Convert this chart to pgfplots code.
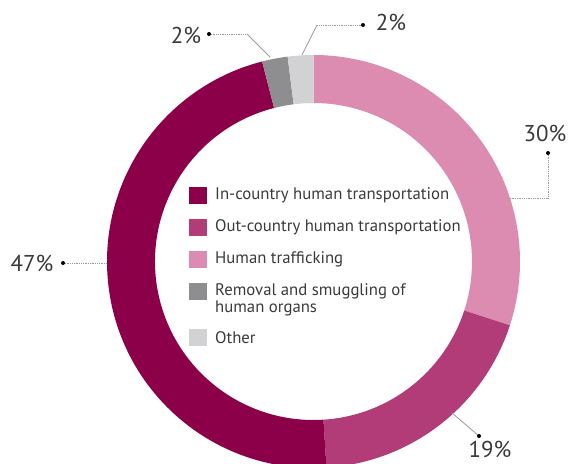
\documentclass[border=0pt]{standalone}
\usepackage{pgfplots}
\pgfplotsset{compat=1.18}
\usepackage{fontspec}
\setmainfont{PT Sans}
\usetikzlibrary{calc}
\definecolor{cIn}{HTML}{8C004A}
\definecolor{cOut}{HTML}{B13C78}
\definecolor{cTraf}{HTML}{DC8BB1}
\definecolor{cRem}{HTML}{8E8E90}
\definecolor{cOth}{HTML}{D2D2D5}
\definecolor{lbl}{HTML}{3A3A3A}
\definecolor{lead}{HTML}{9A9A9A}
% segment between cumulative percentages #1 and #2, colour #3
\newcommand{\donutseg}[3]{%
  \fill[#3] ($(axis cs:313.5,261.5)+({90-3.6*#1}:206.5bp)$)
    arc[start angle={90-3.6*#1}, end angle={90-3.6*#2}, radius=206.5bp]
    -- ($(axis cs:313.5,261.5)+({90-3.6*#2}:158.5bp)$)
    arc[start angle={90-3.6*#2}, end angle={90-3.6*#1}, radius=158.5bp]
    -- cycle;}
\begin{document}
\begin{tikzpicture}
\begin{axis}[
  scale only axis, width=571bp, height=464bp,
  xmin=0, xmax=571, ymin=0, ymax=464, y dir=reverse,
  hide axis, clip=true,
]
% values: Human trafficking 30, Out-country 19, In-country 47, Removal 2, Other 2
\donutseg{0}{30}{cTraf}
\donutseg{30}{49}{cOut}
\donutseg{49}{96}{cIn}
\donutseg{96}{98}{cRem}
\donutseg{98}{100}{cOth}
% leader lines
\draw[lead, densely dotted, line width=0.8pt] (axis cs:209,34) -- (axis cs:247,34);
\draw[lead, line width=0.8pt] (axis cs:247,34) -- (axis cs:270,57);
\draw[lead, densely dotted, line width=0.8pt] (axis cs:363,25) -- (axis cs:317,25);
\draw[lead, line width=0.8pt] (axis cs:317,25) -- (axis cs:302,55);
\draw[lead, densely dotted, line width=0.8pt] (axis cs:63,263) -- (axis cs:107,263);
\draw[lead, densely dotted, line width=0.8pt] (axis cs:548,153) -- (axis cs:548,198) -- (axis cs:507,198);
\draw[lead, line width=0.8pt] (axis cs:479,436) -- (axis cs:452,413);
\fill[black] (axis cs:209,34) circle[radius=2bp];
\fill[black] (axis cs:363,25) circle[radius=2bp];
\fill[black] (axis cs:63,263) circle[radius=2bp];
\fill[black] (axis cs:548,153) circle[radius=2bp];
\fill[black] (axis cs:479,436) circle[radius=2bp];
% value labels
\node[lbl, font=\fontsize{23}{26}\selectfont] at (axis cs:186,35) {2\%};
\node[lbl, font=\fontsize{23}{26}\selectfont] at (axis cs:391,22) {2\%};
\node[lbl, font=\fontsize{23}{26}\selectfont] at (axis cs:32,263) {47\%};
\node[lbl, font=\fontsize{23}{26}\selectfont] at (axis cs:545,133) {30\%};
\node[lbl, font=\fontsize{23}{26}\selectfont] at (axis cs:490,449.5) {19\%};
% legend
\fill[cIn]  (axis cs:189,187) rectangle (axis cs:207,204);
\fill[cOut] (axis cs:189,219) rectangle (axis cs:207,236);
\fill[cTraf](axis cs:189,251) rectangle (axis cs:207,268);
\fill[cRem] (axis cs:189,283) rectangle (axis cs:207,300);
\fill[cOth] (axis cs:189,329) rectangle (axis cs:207,346);
\node[lbl, anchor=west, inner sep=0pt, font=\fontsize{16.8}{18}\selectfont] at (axis cs:215,195) {In-country human transportation};
\node[lbl, anchor=west, inner sep=0pt, font=\fontsize{16.8}{18}\selectfont] at (axis cs:215,227.5) {Out-country human transportation};
\node[lbl, anchor=west, inner sep=0pt, font=\fontsize{16.8}{18}\selectfont] at (axis cs:215,259.5) {Human trafficking};
\node[lbl, anchor=north west, inner sep=0pt, align=left, font=\fontsize{16.8}{18}\selectfont] at (axis cs:215,283) {Removal and smuggling of\\human organs};
\node[lbl, anchor=west, inner sep=0pt, font=\fontsize{16.8}{18}\selectfont] at (axis cs:215,337.5) {Other};
\end{axis}
\pgfresetboundingbox
\path (current axis.south west) rectangle (current axis.north east);
\end{tikzpicture}
\end{document}
